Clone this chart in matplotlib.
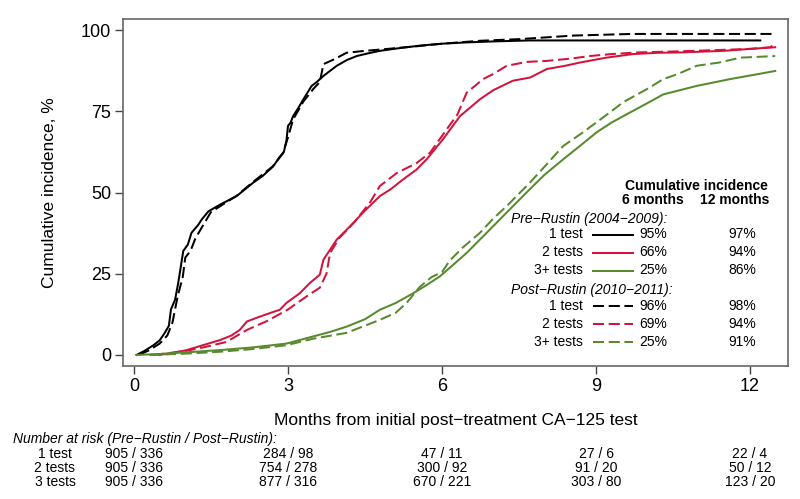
import matplotlib.pyplot as plt
from matplotlib.lines import Line2D
from matplotlib.transforms import blended_transform_factory

plt.rcParams["font.family"] = ["Liberation Sans", "DejaVu Sans"]

BLACK = "#000000"
RED = "#D2143C"
GREEN = "#578A2C"

# cumulative incidence (%) by months
pre_1_t = [0.05, 0.2, 0.38, 0.5, 0.6, 0.68, 0.72, 0.8, 0.86, 0.93, 0.96, 1.05, 1.12, 1.25,
           1.32, 1.45, 1.68, 2.0, 2.32, 2.5, 2.71, 2.84, 2.92, 2.97, 3.0, 3.05, 3.1, 3.2,
           3.3, 3.46, 3.56, 3.7, 3.95, 4.15, 4.34, 4.55, 4.79, 5.2, 5.57, 6.0, 6.48, 7.0,
           7.71, 8.5, 9.5, 10.5, 11.5, 12.2]
pre_1_y = [0, 1.2, 3, 4.5, 6.8, 9, 14, 17, 22, 29, 32, 34, 37.6, 40, 41.7, 44.2, 46.3,
           48.9, 53, 55, 58, 61, 62.5, 66, 70.5, 71.5, 73.5, 76, 78.7, 82.8, 84, 86, 89,
           90.8, 92, 92.8, 93.6, 94.5, 95.2, 95.8, 96.2, 96.5, 96.8, 96.8, 96.8, 96.8,
           96.8, 96.8]

post_1_t = [0.1, 0.3, 0.5, 0.65, 0.75, 0.85, 0.95, 1.0, 1.1, 1.2, 1.35, 1.5, 1.7, 2.0,
            2.3, 2.7, 2.9, 3.0, 3.1, 3.3, 3.5, 3.62, 3.69, 3.9, 4.14, 4.5, 4.8, 5.5, 6.0,
            6.74, 7.5, 8.56, 9.7, 11.0, 12.5]
post_1_y = [0, 1.5, 3.5, 6, 10, 18, 24, 30, 32, 36, 40, 44, 46, 49, 53, 58, 62, 67, 72.5,
            78, 82, 84, 89.5, 91, 93, 93.6, 94, 95, 95.8, 96.7, 97.2, 98.3, 98.8, 98.8,
            98.8]

pre_2_t = [0.5, 0.8, 1.03, 1.3, 1.68, 1.9, 2.06, 2.2, 2.4, 2.65, 2.84, 2.97, 3.23, 3.43,
           3.62, 3.69, 3.95, 4.21, 4.46, 4.79, 5.0, 5.24, 5.5, 5.7, 6.02, 6.35, 6.74, 7.0,
           7.38, 7.72, 8.04, 8.4, 8.69, 9.2, 9.72, 10.2, 10.64, 11.5, 12.0, 12.49]
pre_2_y = [0, 0.8, 1.5, 2.8, 4.6, 6, 7.7, 10.3, 11.5, 12.9, 13.9, 16, 19, 22.2, 24.7, 29.3,
           35.5, 39.6, 43.8, 48.9, 51, 54, 57, 60.2, 66.4, 73.5, 78.7, 81.5, 84.4, 85.4,
           88, 89, 90, 91.5, 92.6, 93, 93.1, 93.6, 94.2, 94.7]

post_2_t = [0.38, 0.7, 1.0, 1.4, 1.8, 2.2, 2.6, 3.0, 3.36, 3.62, 3.75, 3.82, 4.0, 4.3, 4.6,
            4.79, 5.12, 5.5, 5.77, 6.09, 6.3, 6.48, 6.8, 7.0, 7.26, 7.65, 8.04, 8.5, 8.88,
            9.3, 9.79, 10.5, 11.28, 12.0, 12.39, 12.49]
post_2_y = [0, 0.6, 1.2, 2.5, 4, 7.7, 10.5, 14, 18, 20.7, 25, 31.4, 36, 41, 47, 52, 56, 59,
            62.3, 69.4, 74, 80.7, 84.9, 86.5, 89, 90.2, 90.5, 91.2, 92, 92.6, 93.1, 93.4,
            93.8, 94.2, 94.7, 95.7]

pre_3_t = [0.05, 0.5, 1.0, 1.68, 2.3, 2.97, 3.49, 3.8, 4.14, 4.5, 4.79, 5.1, 5.44, 5.7,
           5.96, 6.2, 6.48, 6.87, 7.32, 7.71, 8.0, 8.36, 8.7, 9.01, 9.3, 9.66, 10.0, 10.31,
           10.96, 11.61, 12.0, 12.49]
pre_3_y = [0, 0.3, 0.8, 1.5, 2.3, 3.5, 5.7, 7, 8.7, 11, 13.9, 16, 19, 21.5, 24.2, 27.5,
           31.4, 37.6, 44.8, 51, 55.5, 60.2, 64.5, 68.5, 71.5, 74.6, 77.5, 80.2, 82.8, 84.9,
           86, 87.4]

post_3_t = [0.3, 1.0, 1.68, 2.3, 2.97, 3.49, 4.14, 4.79, 5.1, 5.31, 5.57, 5.8, 6.0, 6.15,
            6.4, 6.74, 7.0, 7.26, 7.71, 8.0, 8.36, 8.7, 9.01, 9.3, 9.53, 9.99, 10.31, 10.6,
            10.96, 11.4, 11.81, 12.49]
post_3_y = [0, 0.4, 1.0, 1.8, 3, 5, 6.8, 10.8, 13, 16, 21, 24, 25.5, 29, 33, 37.6, 42,
            45.8, 53, 58, 64.3, 68, 71.6, 75, 77.8, 81.8, 84.9, 86.5, 89, 90, 91.5, 92]

groups = ["1 test", "2 tests", "3+ tests"]
pre_6m = ["95%", "66%", "25%"]
pre_12m = ["97%", "94%", "86%"]
post_6m = ["96%", "69%", "25%"]
post_12m = ["98%", "94%", "91%"]

risk_months = [0, 3, 6, 9, 12]
risk_groups = ["1 test", "2 tests", "3 tests"]
risk_1 = ["905 / 336", "284 / 98", "47 / 11", "27 / 6", "22 / 4"]
risk_2 = ["905 / 336", "754 / 278", "300 / 92", "91 / 20", "50 / 12"]
risk_3 = ["905 / 336", "877 / 316", "670 / 221", "303 / 80", "123 / 20"]

colors = [BLACK, RED, GREEN]
LW = 1.45
DASH = (0, (5.5, 2.3))

fig = plt.figure(figsize=(8, 4.99), dpi=100)
ax = fig.add_axes([123 / 800, 1 - 366 / 499, 665 / 800, 347 / 499])

ax.plot(pre_1_t, pre_1_y, color=BLACK, lw=LW)
ax.plot(post_1_t, post_1_y, color=BLACK, lw=LW, linestyle=DASH)
ax.plot(pre_2_t, pre_2_y, color=RED, lw=LW)
ax.plot(post_2_t, post_2_y, color=RED, lw=LW, linestyle=DASH)
ax.plot(pre_3_t, pre_3_y, color=GREEN, lw=LW)
ax.plot(post_3_t, post_3_y, color=GREEN, lw=LW, linestyle=DASH)

ax.set_xlim(-0.214, 12.74)
ax.set_ylim(-3.4, 103.4)
ax.set_xticks([0, 3, 6, 9, 12])
ax.set_yticks([0, 25, 50, 75, 100])
ax.tick_params(axis="both", direction="out", length=5.5, width=1, labelsize=13,
               color="#444444", pad=3)
for sp in ax.spines.values():
    sp.set_color("#666666")
    sp.set_linewidth(1.2)
ax.set_ylabel("Cumulative incidence, %", fontsize=12.5, labelpad=17)
ax.set_xlabel("Months from initial post\u2212treatment CA\u2212125 test", fontsize=12.5,
              labelpad=13)

# overlay in pixel coordinates for the legend table and the at-risk table
ov = fig.add_axes([0, 0, 1, 1], zorder=5)
ov.set_xlim(0, 800)
ov.set_ylim(499, 0)
ov.axis("off")
ov.patch.set_alpha(0)

fs = 10
ov.text(696, 186, "Cumulative incidence", fontsize=fs, weight="bold", ha="center", va="center")
ov.text(653, 200, "6 months", fontsize=fs, weight="bold", ha="center", va="center")
ov.text(735, 200, "12 months", fontsize=fs, weight="bold", ha="center", va="center")


def legend_block(y0, title, six, twelve, dashed):
    ov.text(511, y0, title, fontsize=fs, style="italic", ha="left", va="center")
    for i, g in enumerate(groups):
        y = y0 + 15.5 + i * 18
        ov.text(583, y, g, fontsize=fs, ha="right", va="center")
        ov.add_line(Line2D([593, 633], [y, y], color=colors[i], lw=LW,
                           linestyle=DASH if dashed else "-"))
        ov.text(639, y, six[i], fontsize=fs, ha="left", va="center")
        ov.text(728, y, twelve[i], fontsize=fs, ha="left", va="center")


legend_block(219, "Pre\u2212Rustin (2004\u22122009):", pre_6m, pre_12m, False)
legend_block(290, "Post\u2212Rustin (2010\u22122011):", post_6m, post_12m, True)

ov.text(13, 439, "Number at risk (Pre\u2212Rustin / Post\u2212Rustin):", fontsize=fs,
        style="italic", ha="left", va="center")
trans = blended_transform_factory(ax.transData, ov.transData)
for i, (g, row) in enumerate(zip(risk_groups, [risk_1, risk_2, risk_3])):
    y = 454 + i * 14
    ov.text(55, y, g, fontsize=fs, ha="center", va="center")
    for m, s in zip(risk_months, row):
        ov.text(m, y, s, fontsize=fs, ha="center", va="center", transform=trans)

fig.savefig("out.png", dpi=100)
